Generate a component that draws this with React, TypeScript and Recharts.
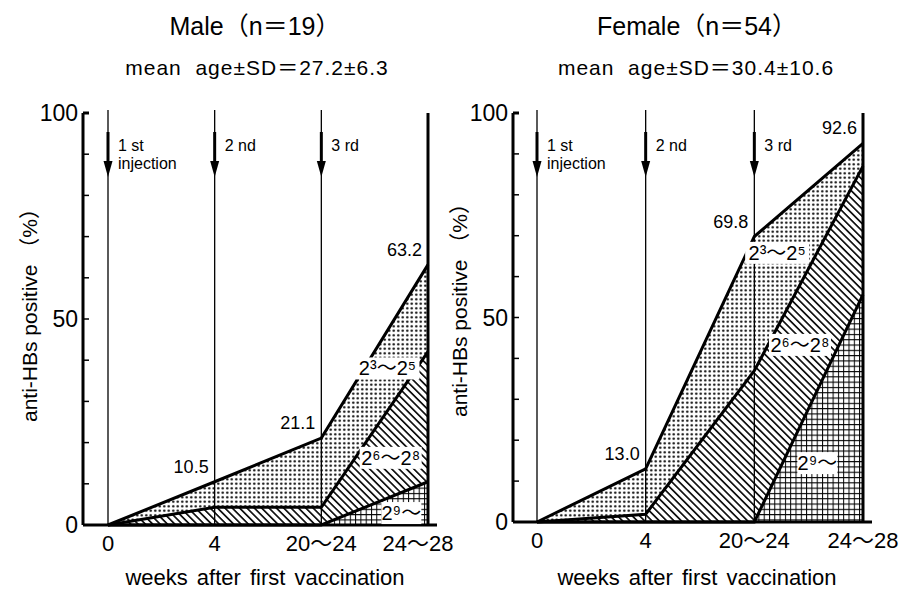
import React from 'react';
import { ComposedChart, Area, XAxis, YAxis, ReferenceLine, ReferenceDot, LabelList } from 'recharts';

// ---- data ----
const weeks = ['0', '4', '20〜24', '24〜28'];
const maleTotal = [0, 10.5, 21.1, 63.2];   // 2^3~ and above
const maleMid = [0, 4.3, 4.3, 42.1];       // 2^6~ and above
const maleHigh = [0, 0, 0, 10.5];          // 2^9~
const femaleTotal = [0, 13.0, 69.8, 92.6];
const femaleMid = [0, 1.9, 37.0, 87.0];
const femaleHigh = [0, 0, 0, 55.6];
const yTicks = [0, 10, 20, 30, 40, 50, 60, 70, 80, 90, 100];
const yTickLabels: Record<number, string> = { 0: '0', 50: '50', 100: '100' };
const injections = [['1 st', 'injection'], ['2 nd'], ['3 rd']];
const bandLabels = ['2³〜2⁵', '2⁶〜2⁸', '2⁹〜'];
const maleBandPos = [[2.62, 38], [2.65, 16.3], [2.75, 2.9]];
const femaleBandPos = [[2.21, 65.8], [2.42, 43.3], [2.58, 14.4]];

const FONT = "'Liberation Sans', 'Noto Sans CJK JP', sans-serif";

const buildRows = (t: number[], m: number[], h: number[]) =>
  weeks.map((w, i) => ({ x: i, week: w, total: t[i], mid: m[i], high: h[i] }));

const Patterns = ({ id }: { id: string }) => (
  <defs>
    <pattern id={`${id}-dots`} width={4.5} height={4.5} patternUnits="userSpaceOnUse">
      <rect width={4.5} height={4.5} fill="#fff" />
      <circle cx={2.25} cy={2.25} r={1.2} fill="#000" />
    </pattern>
    <pattern id={`${id}-hatch`} width={5.2} height={5.2} patternUnits="userSpaceOnUse" patternTransform="rotate(-45)">
      <rect width={5.2} height={5.2} fill="#fff" />
      <line x1={2.6} y1={0} x2={2.6} y2={5.2} stroke="#000" strokeWidth={1.6} />
    </pattern>
    <pattern id={`${id}-grid`} width={5.3} height={5.3} patternUnits="userSpaceOnUse">
      <rect width={5.3} height={5.3} fill="#fff" />
      <path d="M0 0.5 H5.3 M0.5 0 V5.3" stroke="#000" strokeWidth={1} />
    </pattern>
  </defs>
);

const LeftTick = (props: any) => {
  const { x, y, payload } = props;
  const label = yTickLabels[payload.value];
  return (
    <g>
      <line x1={x} x2={x + 6} y1={y} y2={y} stroke="#000" strokeWidth={payload.value === 100 ? 3 : 1.5} />
      {label !== undefined && (
        <text x={x - 5} y={y + 8} textAnchor="end" fontSize={23} fontFamily={FONT} fill="#000">{label}</text>
      )}
    </g>
  );
};

const RightTick = (props: any) => {
  const { x, y, payload } = props;
  return <line x1={x - 7} x2={x} y1={y} y2={y} stroke="#000" strokeWidth={payload.value === 100 ? 3 : 1.5} />;
};

const injectionShape = (lines: string[]) => (p: any) => {
  const x = p.x1;
  const top = Math.min(p.y1, p.y2);
  const bot = Math.max(p.y1, p.y2);
  return (
    <g>
      <line x1={x} x2={x} y1={top - 3} y2={bot} stroke="#000" strokeWidth={1.3} />
      <line x1={x} x2={x} y1={top + 19} y2={top + 52} stroke="#000" strokeWidth={3} />
      <polygon points={`${x - 4.5},${top + 48} ${x + 4.5},${top + 48} ${x},${top + 64}`} fill="#000" />
      <text x={x + 10} y={top + 38} fontSize={16} fontFamily={FONT} fill="#000">{lines[0]}</text>
      {lines[1] && <text x={x + 10} y={top + 56} fontSize={16} fontFamily={FONT} fill="#000">{lines[1]}</text>}
    </g>
  );
};

const baseShape = (p: any) => {
  const a = Math.min(p.x1, p.x2);
  const b = Math.max(p.x1, p.x2);
  return <line x1={a} x2={b + 9} y1={p.y1} y2={p.y2} stroke="#000" strokeWidth={3} />;
};

const bandShape = (text: string, w: number) => (p: any) => {
  const { cx, cy } = p;
  return (
    <g>
      <rect x={cx - w / 2} y={cy - 11} width={w} height={22} fill="#fff" />
      <text x={cx} y={cy + 7} textAnchor="middle" fontSize={20} fontFamily={FONT} fill="#000">{text}</text>
    </g>
  );
};
const bandWidths = [64, 62, 40];

const valueLabel = (p: any) => {
  const { x, y, value } = p;
  if (!value) return null;
  return (
    <text x={x - 6} y={y - 9} textAnchor="end" fontSize={18} fontFamily={FONT} fill="#000">{Number(value).toFixed(1)}</text>
  );
};

type PanelProps = {
  id: string;
  rows: any[];
  bandPos: number[][];
  margin: { top: number; right: number; bottom: number; left: number };
  padLeft: number;
};

const Panel = ({ id, rows, bandPos, margin, padLeft }: PanelProps) => (
  <ComposedChart width={451} height={592} data={rows} margin={margin}>
    <Patterns id={id} />
    <XAxis
      dataKey="x"
      type="number"
      domain={[0, 3]}
      ticks={[0, 1, 2, 3]}
      tickFormatter={(v: number) => weeks[v]}
      padding={{ left: padLeft, right: 0 }}
      axisLine={false}
      tickLine={false}
      tickSize={0}
      tickMargin={10}
      height={30}
      tick={{ fontSize: 22, fill: '#000', fontFamily: FONT }}
      allowDecimals={false}
    />
    <YAxis
      domain={[0, 100]}
      ticks={yTicks}
      width={60}
      axisLine={{ stroke: '#000', strokeWidth: 3 }}
      tickLine={false}
      tickSize={0}
      tickMargin={0}
      tick={<LeftTick />}
      interval={0}
    />
    <YAxis
      yAxisId="r"
      orientation="right"
      domain={[0, 100]}
      ticks={yTicks}
      width={2}
      axisLine={{ stroke: '#000', strokeWidth: 3 }}
      tickLine={false}
      tickSize={0}
      tickMargin={0}
      tick={<RightTick />}
      interval={0}
    />
    <Area type="linear" dataKey="total" stroke="#000" strokeWidth={3} fill={`url(#${id}-dots)`} fillOpacity={1} isAnimationActive={false} dot={false} activeDot={false}>
      <LabelList dataKey="total" content={valueLabel} />
    </Area>
    <Area type="linear" dataKey="mid" stroke="#000" strokeWidth={3} fill={`url(#${id}-hatch)`} fillOpacity={1} isAnimationActive={false} dot={false} activeDot={false} />
    <Area type="linear" dataKey="high" stroke="#000" strokeWidth={3} fill={`url(#${id}-grid)`} fillOpacity={1} isAnimationActive={false} dot={false} activeDot={false} />
    {injections.map((lines, i) => (
      <ReferenceLine key={`inj${i}`} x={i} stroke="#000" shape={injectionShape(lines)} />
    ))}
    <ReferenceLine y={0} stroke="#000" shape={baseShape} />
    {bandLabels.map((t, i) => (
      <ReferenceDot key={`b${i}`} x={bandPos[i][0]} y={bandPos[i][1]} r={0} shape={bandShape(t, bandWidths[i])} />
    ))}
  </ComposedChart>
);

const txt: React.CSSProperties = { position: 'absolute', fontFamily: FONT, color: '#000', textAlign: 'center', whiteSpace: 'pre' };

export default function App() {
  const male = buildRows(maleTotal, maleMid, maleHigh);
  const female = buildRows(femaleTotal, femaleMid, femaleHigh);
  return (
    <div style={{ position: 'absolute', left: 0, top: 0, width: 902, height: 592, background: '#fff', overflow: 'hidden' }}>
      <style>{'.recharts-surface{overflow:visible}'}</style>
      <div style={{ position: 'absolute', left: 0, top: 0 }}>
        <Panel id="m" rows={male} bandPos={maleBandPos} margin={{ top: 113, right: 21, bottom: 37, left: 23 }} padLeft={25} />
      </div>
      <div style={{ position: 'absolute', left: 451, top: 0 }}>
        <Panel id="f" rows={female} bandPos={femaleBandPos} margin={{ top: 113, right: 37, bottom: 40, left: 2 }} padLeft={24} />
      </div>
      <div style={{ ...txt, left: 55, top: 11, width: 400, fontSize: 25, lineHeight: '30px' }}>Male（n＝19）</div>
      <div style={{ ...txt, left: 57, top: 55, width: 400, fontSize: 21, lineHeight: '26px', letterSpacing: 1 }}>mean  age±SD＝27.2±6.3</div>
      <div style={{ ...txt, left: 497, top: 11, width: 400, fontSize: 25, lineHeight: '30px' }}>Female（n＝54）</div>
      <div style={{ ...txt, left: 496, top: 55, width: 400, fontSize: 21, lineHeight: '26px', letterSpacing: 1 }}>mean  age±SD＝30.4±10.6</div>
      <div style={{ ...txt, left: 65, top: 566, width: 400, fontSize: 22, lineHeight: '24px', wordSpacing: 3 }}>weeks after first vaccination</div>
      <div style={{ ...txt, left: 497, top: 566, width: 400, fontSize: 22, lineHeight: '24px', wordSpacing: 3 }}>weeks after first vaccination</div>
      <div style={{ ...txt, left: -120, top: 298, width: 300, fontSize: 21, lineHeight: '24px', transform: 'rotate(-90deg)' }}>anti-HBs positive （%）</div>
      <div style={{ ...txt, left: 310, top: 293, width: 300, fontSize: 21, lineHeight: '24px', transform: 'rotate(-90deg)' }}>anti-HBs positive （%）</div>
    </div>
  );
}
